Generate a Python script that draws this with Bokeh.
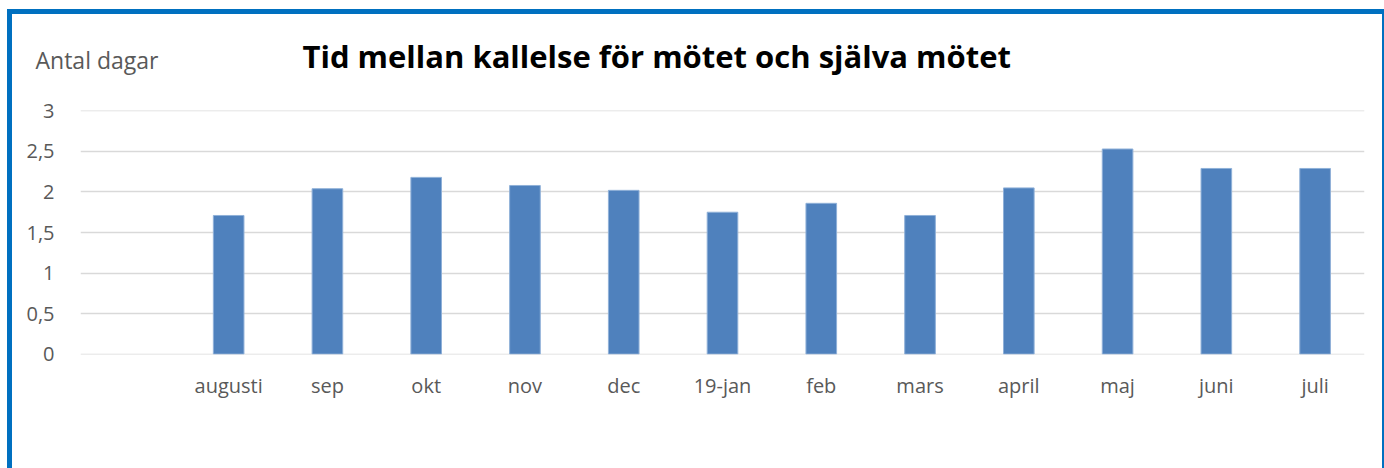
from bokeh.plotting import figure
from bokeh.models import FactorRange, Range1d, Label, FixedTicker, ColumnDataSource
from bokeh.layouts import column
from bokeh.embed import file_html
from bokeh.resources import INLINE

months = ["augusti", "sep", "okt", "nov", "dec", "19-jan", "feb", "mars",
          "april", "maj", "juni", "juli"]
values = [1.71, 2.04, 2.18, 2.08, 2.02, 1.75, 1.86, 1.71, 2.05, 2.53, 2.29, 2.29]
factors = [" "] + months
title_text = "Tid mellan kallelse för mötet och själva mötet"
y_label = "Antal dagar"
y_ticks = [0, 0.5, 1, 1.5, 2, 2.5, 3]
y_tick_labels = {0: "0", 0.5: "0,5", 1: "1", 1.5: "1,5", 2: "2", 2.5: "2,5", 3: "3"}

W = 1370
HEAD_H = 84

# header strip holding the title and the y-axis caption
head = figure(width=W, height=HEAD_H, x_range=Range1d(0, W), y_range=Range1d(0, HEAD_H),
              output_backend="svg", toolbar_location=None, x_axis_type=None,
              y_axis_type=None, min_border=0)
if "frame_align" in head.properties():
    head.frame_align = False
head.outline_line_color = None
head.xgrid.visible = False
head.ygrid.visible = False
head.background_fill_color = "white"
head.border_fill_color = "white"
head.add_layout(Label(x=290, y=43, text=title_text, text_font="Open Sans",
                      text_font_style="bold", text_font_size="31px", text_color="black",
                      text_baseline="alphabetic"))
head.add_layout(Label(x=23, y=39, text=y_label, text_font="Open Sans",
                      text_font_size="23px", text_color="#595959",
                      text_baseline="alphabetic"))

p = figure(x_range=FactorRange(factors=factors, range_padding=0),
           y_range=Range1d(-0.005, 3.005),
           width=W, height=370, output_backend="svg", toolbar_location=None,
           min_border_left=68, min_border_right=18, min_border_top=12,
           min_border_bottom=114)
if "frame_align" in p.properties():
    p.frame_align = False
p.outline_line_color = None
p.background_fill_color = "white"
p.border_fill_color = "white"

src = ColumnDataSource(dict(x=months, y=values))
p.vbar(x="x", top="y", width=0.31, source=src, fill_color="#4F81BD",
       line_color="#8FB0D8", line_width=1)

p.xgrid.grid_line_color = None
p.ygrid.grid_line_color = "#D9D9D9"
p.ygrid.grid_line_width = 1.5
p.ygrid.ticker = FixedTicker(ticks=y_ticks)

p.yaxis.ticker = FixedTicker(ticks=y_ticks)
p.yaxis.major_label_overrides = y_tick_labels
for ax in (p.xaxis, p.yaxis):
    ax.axis_line_color = None
    ax.major_tick_line_color = None
    ax.minor_tick_line_color = None
    ax.major_label_text_color = "#595959"
    ax.major_label_text_font = "Open Sans"
    ax.major_label_text_font_size = "20px"
p.yaxis.major_label_standoff = 20
p.xaxis.major_label_standoff = 11

layout = column(head, p, spacing=0)
layout.styles = {"border-left": "5px solid #0070C0", "border-top": "5px solid #0070C0",
                 "border-right": "5px solid #0070C0", "margin-left": "7px",
                 "margin-top": "9px"}

open("out.html", "w").write(file_html(layout, INLINE))
